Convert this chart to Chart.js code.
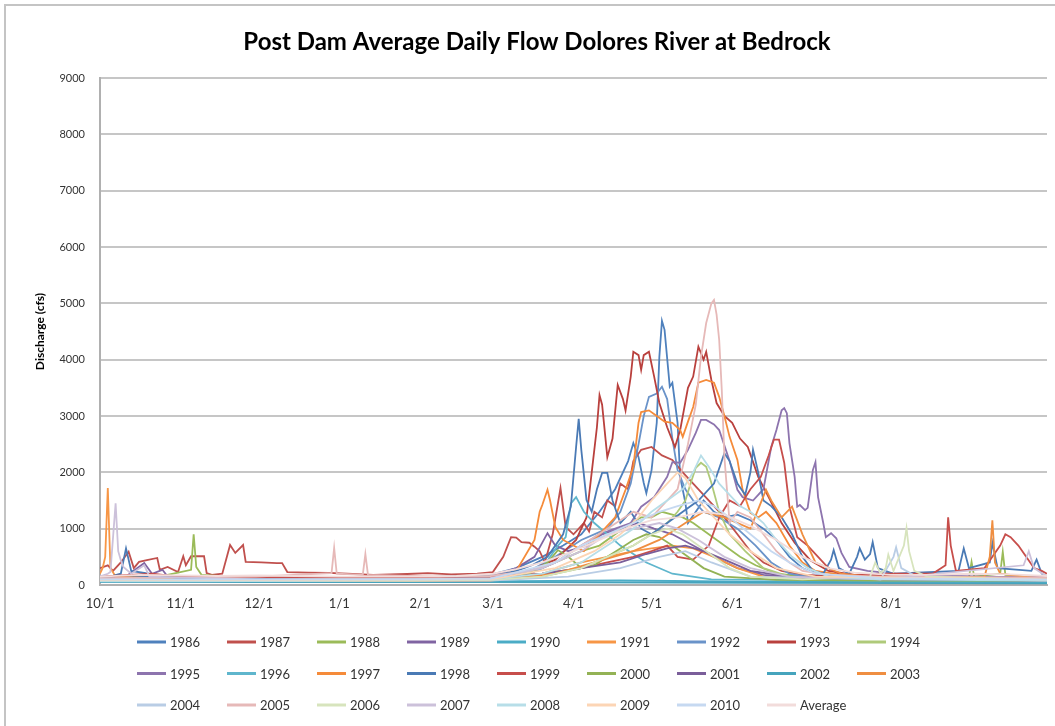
<!DOCTYPE html>
<html>
<head>
<meta charset="utf-8">
<script src="https://cdn.jsdelivr.net/npm/chart.js@4/dist/chart.umd.min.js"></script>
<style>
html, body { margin: 0; padding: 0; background: #fff; overflow: hidden; }
canvas { display: block; }
</style>
</head>
<body>
<canvas id="myChart" width="1075" height="726"></canvas>
<script>
// water year day (0 = Oct 1) and daily flow in cfs
const f1986 = [[0,120],[10,150],[30,140],[60,130],[90,120],[120,130],[150,180],[160,300],[170,500],[178,700],[185,900],[192,1300],[198,1700],[203,2200],[205,2520],[207,2270],[209,1810],[210,1630],[212,2040],[214,2880],[215,4050],[216,4690],[217,4530],[219,3520],[220,3590],[222,2880],[223,1920],[225,1460],[226,1100],[229,1300],[232,1500],[236,1300],[240,1200],[245,1250],[250,1150],[255,1000],[260,800],[265,500],[270,300],[275,200],[285,150],[300,130],[330,120],[364,110]];
const f1987 = [[0,300],[3,350],[5,250],[8,400],[11,590],[13,300],[15,410],[18,440],[22,480],[23,270],[26,320],[30,230],[32,510],[33,350],[35,510],[40,510],[41,210],[43,180],[47,200],[50,710],[52,570],[55,710],[56,410],[62,400],[68,390],[70,390],[72,230],[80,220],[88,215],[95,200],[105,180],[118,195],[126,210],[135,190],[145,200],[151,230],[155,500],[158,850],[160,840],[162,760],[165,750],[167,680],[169,600],[171,400],[174,900],[177,1720],[179,1030],[182,900],[186,1100],[188,950],[190,1300],[193,1200],[195,1500],[198,1400],[200,1800],[203,1700],[205,2200],[208,2400],[212,2450],[216,2300],[220,2220],[224,2000],[228,1800],[232,1600],[236,1400],[240,1200],[245,900],[250,600],[255,400],[262,250],[270,180],[290,150],[320,150],[364,140]];
const f1988 = [[0,100],[20,120],[35,270],[36,900],[37,320],[39,180],[60,120],[90,110],[120,110],[150,130],[165,200],[175,400],[185,600],[192,700],[198,900],[204,1100],[208,1200],[212,1200],[216,1300],[220,1250],[224,1200],[228,1100],[234,900],[240,700],[246,500],[252,350],[260,200],[275,130],[300,120],[334,130],[335,410],[336,150],[346,200],[347,590],[348,180],[364,100]];
const f1989 = [[0,100],[10,150],[17,390],[20,200],[24,270],[26,150],[60,120],[100,110],[150,150],[160,300],[167,500],[172,920],[175,700],[180,600],[187,700],[193,900],[200,1000],[207,1100],[213,1000],[220,900],[228,700],[236,500],[245,300],[255,180],[270,120],[364,100]];
const f1990 = [[0,60],[40,70],[100,60],[160,70],[200,80],[250,60],[300,55],[364,50]];
const f1991 = [[0,200],[1,300],[2,500],[3,1720],[4,300],[6,150],[20,120],[60,100],[120,100],[150,110],[170,200],[185,400],[195,500],[205,600],[212,650],[220,700],[228,650],[236,500],[245,300],[255,150],[270,100],[364,90]];
const f1992 = [[0,80],[40,90],[100,80],[150,100],[165,250],[175,500],[185,800],[195,1000],[200,1300],[204,1800],[207,2500],[209,3000],[211,3340],[214,3400],[216,3520],[218,3300],[220,2600],[222,2040],[225,1700],[228,1500],[232,1300],[238,1200],[245,1000],[252,700],[258,400],[265,200],[275,120],[300,90],[364,80]];
const f1993 = [[0,90],[30,100],[60,110],[90,100],[120,110],[150,150],[165,250],[175,450],[183,800],[187,1200],[189,2000],[191,2800],[192,3370],[193,3200],[195,2270],[197,2600],[199,3550],[201,3300],[202,3100],[204,3700],[205,4140],[207,4080],[208,3820],[209,4080],[211,4140],[213,3700],[215,3230],[218,2800],[221,2450],[223,2750],[226,3500],[228,3700],[230,4230],[232,4000],[233,4140],[235,3640],[237,3230],[240,3000],[243,2880],[246,2600],[249,2450],[253,1920],[257,1560],[262,1100],[267,750],[273,440],[280,250],[290,180],[310,150],[340,140],[364,120]];
const f1994 = [[0,80],[60,80],[120,80],[150,90],[170,150],[185,300],[195,500],[205,700],[212,900],[218,1100],[222,1300],[225,1500],[227,1800],[229,2080],[231,2170],[233,2100],[235,1810],[238,1300],[242,900],[248,600],[255,300],[265,150],[300,90],[364,80]];
const f1995 = [[0,90],[30,100],[60,100],[120,100],[150,120],[165,200],[175,400],[185,700],[192,900],[198,1000],[204,1100],[208,1390],[213,1560],[218,1920],[220,2180],[223,2170],[226,2400],[229,2700],[231,2930],[233,2930],[236,2850],[238,2750],[242,2200],[245,1690],[247,1560],[251,1500],[255,1700],[258,2450],[260,2750],[262,3100],[263,3140],[264,3050],[265,2520],[267,1920],[268,1390],[269,1420],[271,1330],[272,1370],[274,2040],[275,2180],[276,1560],[278,1100],[279,850],[281,920],[283,830],[285,570],[288,320],[295,250],[310,180],[340,150],[364,130]];
const f1996 = [[0,60],[150,70],[170,300],[176,700],[179,850],[181,1450],[183,1560],[186,1300],[190,1100],[195,900],[200,700],[210,400],[220,200],[235,100],[364,60]];
const f1997 = [[0,100],[30,110],[60,100],[120,100],[150,130],[160,250],[167,800],[169,1300],[170,1420],[172,1690],[173,1500],[175,1030],[178,800],[182,700],[186,600],[190,800],[194,1000],[198,1200],[202,1690],[205,2100],[207,2880],[208,3070],[211,3100],[214,3000],[217,2900],[220,2880],[223,2750],[224,2630],[226,2900],[228,3160],[230,3590],[233,3640],[236,3590],[238,3340],[240,3000],[242,2630],[245,2220],[247,1690],[250,1280],[253,1200],[256,1300],[260,1100],[265,700],[270,400],[275,250],[290,150],[364,110]];
const f1998 = [[0,100],[8,200],[10,650],[12,250],[30,120],[90,100],[150,150],[160,250],[166,350],[172,500],[178,900],[181,1400],[183,2450],[184,2950],[185,2400],[187,1510],[189,1300],[191,1700],[193,1990],[195,1990],[197,1500],[200,1100],[204,1300],[208,1000],[212,900],[218,1100],[224,1300],[230,1500],[236,1800],[240,2340],[242,2200],[245,1800],[248,1600],[250,2000],[251,2400],[253,2000],[255,1500],[258,1400],[262,1200],[266,900],[270,500],[274,250],[278,200],[281,450],[282,620],[284,300],[288,200],[291,500],[292,650],[294,450],[296,550],[297,760],[299,300],[305,200],[330,250],[332,650],[334,300],[342,400],[343,750],[345,300],[358,250],[360,450],[362,200],[364,150]];
const f1999 = [[0,150],[20,200],[30,150],[60,140],[100,130],[150,150],[170,200],[185,300],[195,400],[205,500],[212,600],[218,700],[222,500],[228,450],[234,700],[238,1200],[242,1500],[246,1400],[250,1700],[254,1920],[257,2300],[259,2580],[261,2580],[263,2170],[265,1390],[268,850],[272,700],[276,500],[280,300],[284,200],[290,180],[300,200],[320,200],[325,350],[326,1200],[327,700],[329,250],[340,300],[343,500],[346,700],[348,900],[350,850],[353,700],[356,500],[359,300],[362,250],[364,200]];
const f2000 = [[0,90],[60,90],[120,90],[150,100],[165,200],[172,400],[176,620],[180,500],[185,300],[190,350],[195,500],[200,650],[205,800],[210,900],[215,850],[220,700],[226,500],[232,300],[240,150],[260,90],[300,80],[364,80]];
const f2001 = [[0,80],[60,80],[120,80],[150,100],[170,200],[185,300],[200,400],[210,550],[218,650],[225,700],[232,600],[240,450],[250,250],[265,150],[300,100],[364,80]];
const f2002 = [[0,60],[60,50],[150,50],[250,40],[364,30]];
const f2003 = [[0,70],[60,70],[120,70],[150,80],[175,200],[190,400],[205,600],[215,800],[225,1100],[232,1300],[240,1200],[250,1000],[256,1690],[258,1500],[262,1200],[266,1390],[270,900],[275,400],[285,200],[300,120],[340,150],[342,500],[343,1150],[344,400],[346,200],[364,100]];
const f2004 = [[0,70],[60,70],[150,80],[180,150],[200,300],[215,500],[225,600],[235,400],[250,150],[300,100],[305,500],[306,670],[308,300],[315,120],[364,80]];
const f2005 = [[0,120],[30,130],[60,150],[89,210],[90,660],[91,200],[101,180],[102,550],[103,180],[130,150],[150,160],[165,250],[175,400],[185,700],[195,1000],[205,1300],[212,1200],[218,1500],[222,1700],[226,2500],[229,3200],[231,4050],[233,4650],[235,5000],[236,5060],[237,4800],[238,4350],[239,3460],[240,2270],[242,1100],[245,1300],[250,1200],[255,900],[260,600],[265,400],[270,250],[280,180],[300,150],[364,130]];
const f2006 = [[0,80],[60,80],[120,80],[150,90],[170,150],[185,300],[195,500],[205,700],[212,900],[218,1000],[224,900],[230,700],[236,500],[242,300],[250,150],[270,100],[296,150],[298,400],[300,200],[302,300],[303,540],[305,250],[309,700],[310,1010],[311,600],[313,250],[318,150],[364,90]];
const f2007 = [[0,150],[3,200],[4,230],[6,1450],[7,600],[8,440],[9,320],[12,200],[17,350],[19,150],[60,100],[120,100],[150,120],[170,300],[185,600],[195,900],[205,1000],[215,1100],[222,1000],[230,800],[240,500],[250,300],[265,150],[300,100],[355,350],[357,600],[359,300],[364,150]];
const f2008 = [[0,80],[60,80],[120,90],[150,100],[170,200],[185,400],[195,700],[205,1000],[212,1300],[218,1500],[224,1700],[228,2000],[231,2300],[234,2100],[238,1800],[242,1600],[246,1400],[250,1300],[255,1100],[260,800],[266,500],[272,300],[280,150],[300,100],[364,80]];
const f2009 = [[0,90],[60,90],[150,100],[175,300],[190,600],[200,900],[207,1200],[212,1500],[218,1800],[222,2000],[225,1900],[230,1500],[236,1200],[242,900],[250,600],[260,300],[275,150],[364,100]];
const f2010 = [[0,100],[60,100],[150,110],[175,400],[185,700],[195,900],[205,1100],[215,1300],[222,1400],[230,1500],[236,1400],[242,1200],[250,900],[258,600],[265,400],[275,200],[300,120],[364,100]];
const fAverage = [[0,150],[15,180],[31,170],[45,160],[61,170],[75,160],[92,150],[105,150],[123,150],[137,160],[151,200],[160,280],[170,400],[182,600],[192,800],[202,1000],[212,1150],[222,1200],[232,1300],[240,1250],[250,1050],[260,800],[270,500],[280,300],[290,220],[304,180],[320,180],[335,200],[350,190],[364,160]];

const years = ['1986','1987','1988','1989','1990','1991','1992','1993','1994',
  '1995','1996','1997','1998','1999','2000','2001','2002','2003',
  '2004','2005','2006','2007','2008','2009','2010','Average'];
const flows = [f1986,f1987,f1988,f1989,f1990,f1991,f1992,f1993,f1994,
  f1995,f1996,f1997,f1998,f1999,f2000,f2001,f2002,f2003,
  f2004,f2005,f2006,f2007,f2008,f2009,f2010,fAverage];
const colors = ['#4F81BD','#C0504D','#9BBB59','#8064A2','#4BACC6','#F79646',
  '#6A93C9','#B9403D','#AFCA7A','#8D74AE','#5FB6CD','#F58B3A',
  '#4A7AB5','#C74E4B','#93B255','#7A5E9A','#46A4BD','#EF8E41',
  '#B9CDE5','#E6B9B8','#D7E4BD','#CCC1DA','#B7DEE8','#FCD5B5','#C6D9F1','#F2DCDB'];

const monthDays = [0,31,61,92,123,151,182,212,243,273,304,335];
const monthLabels = ['10/1','11/1','12/1','1/1','2/1','3/1','4/1','5/1','6/1','7/1','8/1','9/1'];
const chartTitle = 'Post Dam Average Daily Flow Dolores River at Bedrock';

var FONT = 'Lato, "Open Sans", sans-serif';

// white background, outer border, title
const frame = {
	id: 'frame',
	beforeDraw(chart) {
		var ctx = chart.ctx;
		ctx.save();
		ctx.fillStyle = '#fff';
		ctx.fillRect(0, 0, chart.width, chart.height);
		ctx.strokeStyle = '#c4c4c4';
		ctx.lineWidth = 2;
		ctx.beginPath();
		ctx.moveTo(5, chart.height);
		ctx.lineTo(5, 5);
		ctx.lineTo(chart.width, 5);
		ctx.stroke();
		ctx.restore();
	},
	afterDraw(chart) {
		var ctx = chart.ctx;
		ctx.save();
		ctx.fillStyle = '#000';
		ctx.font = 'bold 24px ' + FONT;
		ctx.textAlign = 'center';
		ctx.textBaseline = 'middle';
		ctx.fillText(chartTitle, 537, 42);
		ctx.restore();
	}
};

// excel style legend laid out on a grid
const gridLegend = {
	id: 'gridLegend',
	afterDraw(chart) {
		var ctx = chart.ctx;
		ctx.save();
		ctx.font = '13px ' + FONT;
		ctx.textBaseline = 'middle';
		ctx.textAlign = 'left';
		chart.data.datasets.forEach(function(ds, i) {
			var x = 137 + (i % 9) * 90;
			var y = 642 + Math.floor(i / 9) * 31.5;
			ctx.strokeStyle = ds.borderColor;
			ctx.lineWidth = 3;
			ctx.beginPath();
			ctx.moveTo(x, y);
			ctx.lineTo(x + 29, y);
			ctx.stroke();
			ctx.fillStyle = '#333';
			ctx.fillText(ds.label, x + 33, y + 1);
		});
		ctx.restore();
	}
};

var datasets = flows.map(function(pts, i) {
	return {
		label: years[i],
		data: pts.map(function(p) { return {x: p[0], y: p[1]}; }),
		borderColor: colors[i],
		backgroundColor: colors[i],
		borderWidth: 1.8,
		pointRadius: 0,
		tension: 0,
		order: years.length - i
	};
});

var ctx = document.getElementById('myChart').getContext('2d');
var myChart = new Chart(ctx, {
	type: 'line',
	data: { datasets: datasets },
	plugins: [frame, gridLegend],
	options: {
		responsive: false,
		animation: false,
		layout: { padding: { left: 0, right: 28, top: 78, bottom: 0 } },
		plugins: {
			legend: { display: false },
			title: { display: false },
			tooltip: { enabled: false }
		},
		scales: {
			x: {
				type: 'linear',
				min: 0,
				max: 364,
				grid: { display: false, drawTicks: false },
				border: { display: true, color: '#b0b0b0', width: 2 },
				afterBuildTicks: function(scale) {
					scale.ticks = monthDays.map(function(d) { return {value: d}; });
				},
				ticks: {
					padding: 11,
					color: '#333',
					font: { family: FONT, size: 13 },
					maxRotation: 0,
					autoSkip: false,
					callback: function(v) {
						var k = monthDays.indexOf(v);
						return k >= 0 ? monthLabels[k] : '';
					}
				},
				afterFit: function(scale) { scale.height = 141; }
			},
			y: {
				min: 0,
				max: 9000,
				grid: { color: '#c6c6c6', lineWidth: 2, drawTicks: false },
				border: { display: true, color: '#b0b0b0', width: 2 },
				ticks: {
					stepSize: 1000,
					padding: 15,
					color: '#333',
					font: { family: FONT, size: 11 },
					callback: function(v) { return String(v); }
				},
				title: {
					display: true,
					text: 'Discharge (cfs)',
					color: '#000',
					font: { family: FONT, size: 12, weight: 'bold' },
					padding: { top: 33, bottom: 0 }
				},
				afterFit: function(scale) { scale.width = 100; }
			}
		}
	}
});
</script>
</body>
</html>
